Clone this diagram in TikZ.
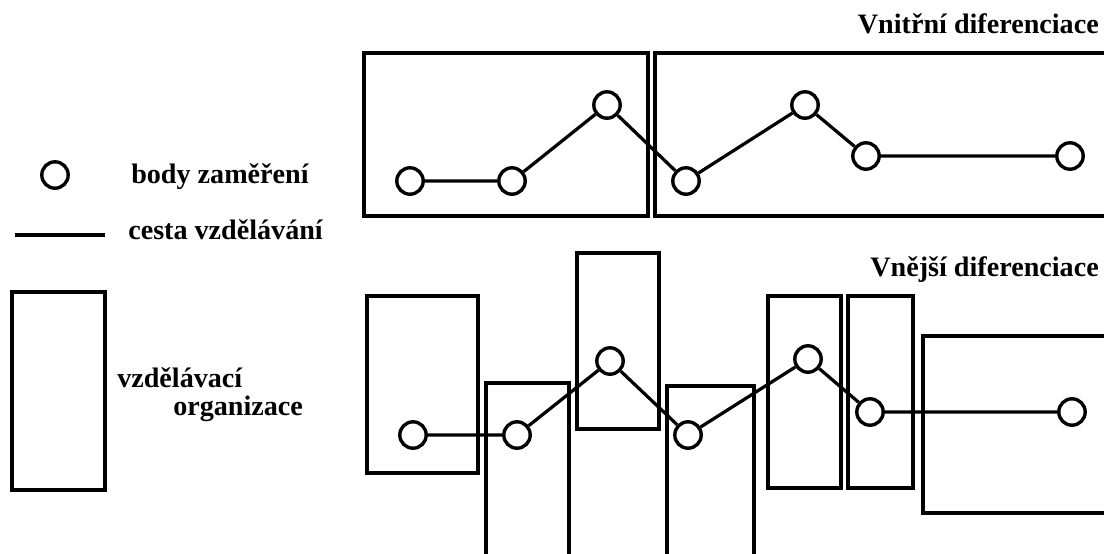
\documentclass[tikz,border=0pt]{standalone}
\usepackage{fontspec}
\setmainfont{Liberation Serif}
\usetikzlibrary{positioning}

\tikzset{
  bod/.style={circle, draw, line width=2.4pt, minimum size=0.66cm, inner sep=0pt, fill=white},
  cesta/.style={line width=2.3pt},
  ramec/.style={line width=3pt},
  popis/.style={font=\bfseries\fontsize{20}{22}\selectfont, inner sep=0pt}
}

\begin{document}
\begin{tikzpicture}[x=0.025cm, y=-0.025cm]
  \useasboundingbox (0, 0) rectangle (1104, 553);

  % legenda
  \node[bod] (legbod) at (55, 175) {};
  \node[popis, anchor=base west] (legbodtext) at (131, 183) {body zaměření};
  \coordinate (legA) at (15, 235);
  \coordinate (legB) at (105, 235);
  \draw[cesta, line width=2.8pt] (legA) -- (legB);
  \node[popis, anchor=base west] (legcesta) at (128, 239) {cesta vzdělávání};
  \draw[ramec] (12, 292) rectangle (105, 490);
  \node[popis, anchor=base west] (legorg1) at (117, 387) {vzdělávací};
  \node[popis, anchor=base west] (legorg2) at (173, 415) {organizace};

  % vnitrni diferenciace
  \node[popis, anchor=base east] (vnitrni) at (1099, 33) {Vnitřní diferenciace};
  \draw[ramec] (364, 53) rectangle (648, 216);
  \draw[ramec] (655, 53) rectangle (1120, 216);

  \foreach [count=\n] \x/\y in {410/181, 512/181, 607/105, 686/181, 805/105, 866/156, 1070/156} {
    \node[bod] (t\n) at (\x, \y) {};
  }
  \draw[cesta] (t1) -- (t2) -- (t3) -- (t4) -- (t5) -- (t6) -- (t7);

  % vnejsi diferenciace
  \node[popis, anchor=base east] (vnejsi) at (1099, 276) {Vnější diferenciace};
  \foreach \l/\u/\r/\d in {367/296/478/473, 486/383/569/570, 577/253/659/429,
                           667/386/754/570, 768/296/841/488, 848/296/913/488,
                           923/336/1120/513} {
    \draw[ramec] (\l, \u) rectangle (\r, \d);
  }

  \foreach [count=\n] \x/\y in {413/435, 517/435, 610/361, 688/435, 808/359, 870/412, 1072/412} {
    \node[bod] (b\n) at (\x, \y) {};
  }
  \draw[cesta] (b1) -- (b2) -- (b3) -- (b4) -- (b5) -- (b6) -- (b7);

\end{tikzpicture}
\end{document}
